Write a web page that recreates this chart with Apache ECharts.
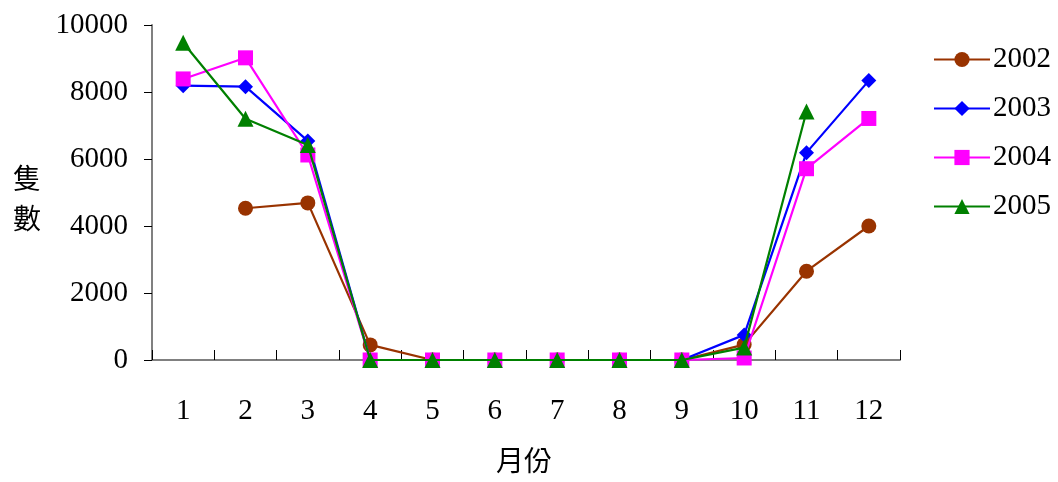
<!DOCTYPE html>
<html>
<head>
<meta charset="utf-8">
<script src="https://cdn.jsdelivr.net/npm/echarts@6/dist/echarts.min.js"></script>
<style>
html,body{margin:0;padding:0;background:#fff;}
#chart{width:1058px;height:482px;}
</style>
</head>
<body>
<div id="chart"></div>
<script>
// Monthly counts (隻數) per year
const months = ['1','2','3','4','5','6','7','8','9','10','11','12'];
const years = ['2002','2003','2004','2005'];
const v2002 = [null, 4530, 4690, 450, 0, 0, 0, 0, 0, 460, 2650, 4000];
const v2003 = [8190, 8160, 6540, 0, 0, 0, 0, 0, 0, 750, 6190, 8340];
const v2004 = [8390, 9020, 6120, 0, 0, 0, 0, 0, 0, 60, 5710, 7210];
const v2005 = [9470, 7200, 6420, 0, 0, 0, 0, 0, 0, 370, 7420, null];
const yTicks = { min: 0, max: 10000, step: 2000 };

const colors = ['#993300', '#0000ff', '#ff00ff', '#008000'];
const symbols = ['circle', 'diamond', 'rect', 'triangle'];
const sizes = [15, 15, 15, 16];
const values = [v2002, v2003, v2004, v2005];

const latin = '"Liberation Serif", "Times New Roman", serif';
const cjk = '"Noto Sans CJK TC", "Noto Sans CJK SC", sans-serif';

const chart = echarts.init(document.getElementById('chart'), null, { renderer: 'canvas' });
chart.setOption({
  animation: false,
  backgroundColor: '#ffffff',
  grid: { left: 152, right: 158, top: 25, bottom: 122, containLabel: false },
  legend: {
    orient: 'vertical',
    left: 928,
    top: 40,
    itemWidth: 56,
    itemHeight: 19,
    itemGap: 20,
    data: years,
    textStyle: { fontFamily: latin, fontSize: 29, color: '#000', padding: [0, 0, 0, -2] }
  },
  xAxis: {
    type: 'category',
    data: months,
    boundaryGap: true,
    axisLine: { lineStyle: { color: '#808080', width: 2 } },
    axisTick: { show: true, inside: true, length: 10, lineStyle: { color: '#000', width: 1 } },
    axisLabel: { fontFamily: latin, fontSize: 29, color: '#000', margin: 37 },
    splitLine: { show: false }
  },
  yAxis: {
    type: 'value',
    min: yTicks.min,
    max: yTicks.max,
    interval: yTicks.step,
    axisLine: { show: true, lineStyle: { color: '#808080', width: 2 } },
    axisTick: { show: true, length: 8, lineStyle: { color: '#000', width: 1 } },
    axisLabel: { fontFamily: latin, fontSize: 29, color: '#000', margin: 24,
                 formatter: v => String(v) },
    splitLine: { show: false }
  },
  graphic: [
    { type: 'text', left: 13, top: 158,
      style: { text: '隻\n數', font: '28px ' + cjk, fill: '#000', lineHeight: 40 } },
    { type: 'text', left: 496, top: 446,
      style: { text: '月份', font: '28px ' + cjk, fill: '#000' } }
  ],
  series: years.map((y, i) => ({
    name: y,
    type: 'line',
    data: values[i],
    connectNulls: false,
    symbol: symbols[i],
    symbolSize: sizes[i],
    showAllSymbol: true,
    lineStyle: { color: colors[i], width: 2.2 },
    itemStyle: { color: colors[i] },
    z: 2 + i
  }))
});
</script>
</body>
</html>
